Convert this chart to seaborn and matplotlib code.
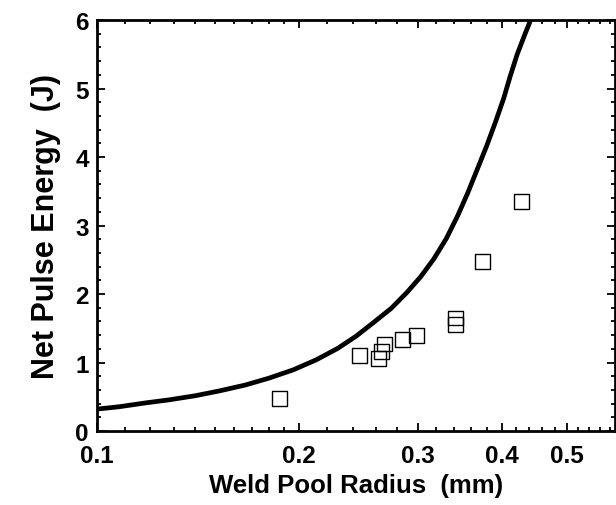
import numpy as np
import pandas as pd
import matplotlib
matplotlib.use('Agg')
import matplotlib.pyplot as plt
import matplotlib.ticker as mticker
import seaborn as sns

# model curve
curve_radius = [0.100, 0.108, 0.118, 0.128, 0.140, 0.152, 0.166, 0.180,
                0.196, 0.212, 0.228, 0.243, 0.258, 0.274, 0.289, 0.303,
                0.317, 0.331, 0.344, 0.356, 0.368, 0.380, 0.392, 0.403,
                0.412, 0.422, 0.432, 0.441, 0.446]
curve_energy = [0.32, 0.355, 0.41, 0.455, 0.515, 0.585, 0.67, 0.77,
                0.894, 1.04, 1.205, 1.385, 1.585, 1.79, 2.02, 2.25,
                2.51, 2.81, 3.14, 3.47, 3.82, 4.16, 4.52, 4.86,
                5.18, 5.50, 5.76, 5.98, 6.2]

# measured welds
meas_radius = [0.1866, 0.2458, 0.2623, 0.2647, 0.2677, 0.2845, 0.2988,
               0.3418, 0.3418, 0.3752, 0.428]
meas_energy = [0.48, 1.10, 1.06, 1.156, 1.27, 1.33, 1.40,
               1.65, 1.55, 2.47, 3.35]

x_ticks = [0.1, 0.2, 0.3, 0.4, 0.5]
x_ticklabels = ['0.1', '0.2', '0.3', '0.4', '0.5']
y_ticks = [0, 1, 2, 3, 4, 5, 6]

sns.set_style('ticks')
plt.rcParams['font.family'] = ['Liberation Sans', 'DejaVu Sans']
plt.rcParams['font.weight'] = 'bold'
for key in ['text.color', 'axes.labelcolor', 'xtick.color', 'ytick.color']:
    plt.rcParams[key] = 'black'

curve_df = pd.DataFrame({'r': curve_radius, 'E': curve_energy})
meas_df = pd.DataFrame({'r': meas_radius, 'E': meas_energy})

fig = plt.figure(figsize=(6.16, 5.06), dpi=100)
ax = fig.add_axes([0.1575, 0.1462, 0.8409, 0.8123])

sns.lineplot(data=curve_df, x='r', y='E', sort=False, estimator=None,
             color='black', linewidth=3.4, ax=ax)
sns.scatterplot(data=meas_df, x='r', y='E', marker='s', s=115,
                facecolors='none', edgecolors='black', linewidth=1.0, ax=ax)

ax.set_xscale('log')
ax.set_xlim(0.1, 0.59)
ax.set_ylim(0, 6)

ax.xaxis.set_major_locator(mticker.FixedLocator(x_ticks))
ax.xaxis.set_major_formatter(mticker.FixedFormatter(x_ticklabels))
minor_x = [round(v, 2) for v in np.arange(0.11, 0.20, 0.01)] + \
          [round(v, 2) for v in np.arange(0.22, 0.59, 0.02) if round(v, 2) not in x_ticks]
ax.xaxis.set_minor_locator(mticker.FixedLocator(minor_x))
ax.xaxis.set_minor_formatter(mticker.NullFormatter())
ax.yaxis.set_major_locator(mticker.FixedLocator(y_ticks))
ax.yaxis.set_minor_locator(mticker.MultipleLocator(0.2))

ax.tick_params(which='both', direction='in', top=True, right=True, width=1.3)
ax.tick_params(which='major', length=6, labelsize=17.5)
ax.tick_params(axis='x', which='major', pad=9)
ax.tick_params(axis='y', which='major', pad=6)
ax.tick_params(which='minor', length=3)
for lbl in ax.get_xticklabels() + ax.get_yticklabels():
    lbl.set_fontweight('bold')

for sp in ax.spines.values():
    sp.set_linewidth(2)
    sp.set_color('black')

ax.set_xlabel('Weld Pool Radius  (mm)', fontsize=18.5, fontweight='bold', labelpad=5)
ax.set_ylabel('Net Pulse Energy  (J)', fontsize=22, fontweight='bold', labelpad=10)

fig.savefig('out.png', dpi=100)
